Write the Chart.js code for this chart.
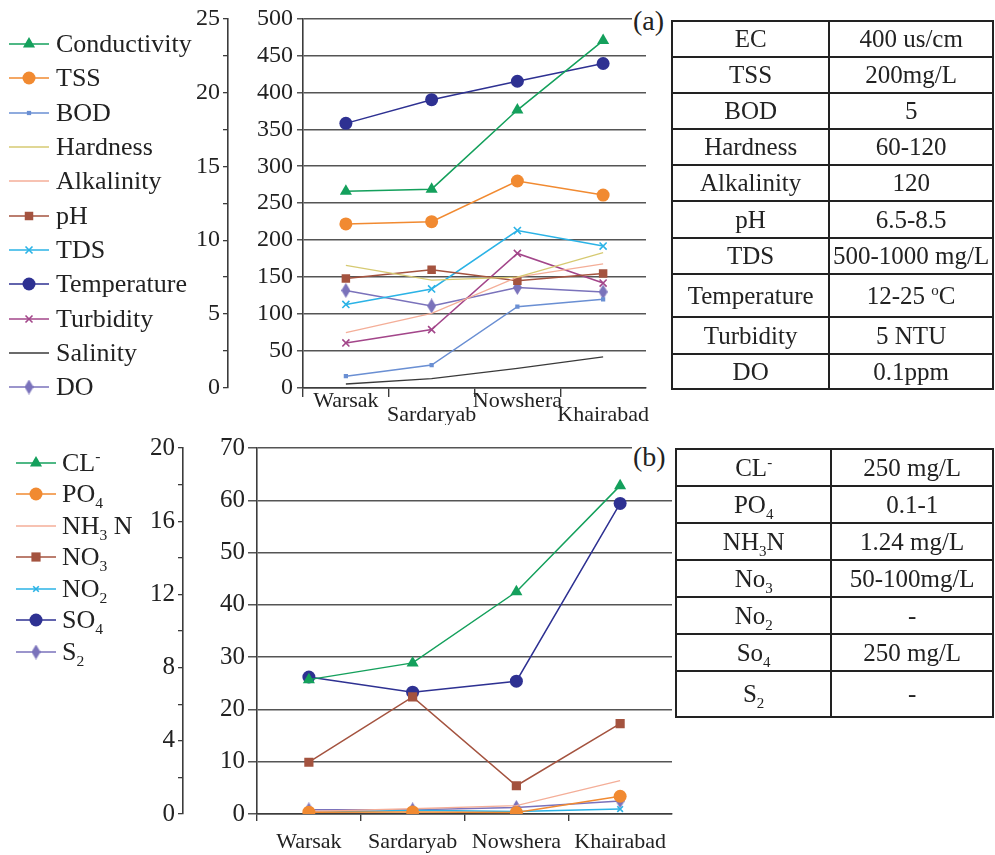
<!DOCTYPE html>
<html>
<head>
<meta charset="utf-8">
<script src="https://cdn.jsdelivr.net/npm/chart.js@4/dist/chart.umd.min.js"></script>
<style>
  body { margin: 0; background: #fff; font-family: 'Liberation Serif', 'Times New Roman', serif; color: #222; }
  #page { position: relative; width: 995px; height: 855px; overflow: hidden; }
  .abs { position: absolute; }
  .legend { position: absolute; }
  .legend .item { display: flex; align-items: center; white-space: nowrap; font-size: 26px; line-height: 1; }
  .legend canvas { flex: none; }
  .legend sub, .legend sup, td sub, td sup { font-size: 60%; line-height: 0; }
  .tag { position: absolute; font-size: 28px; background: #fff; padding: 0 12px 0 1px; }
  table { position: absolute; border-collapse: collapse; font-size: 25px; }
  td { border: 2px solid #222; text-align: center; padding: 0; }
</style>
</head>
<body>
<div id="page">
  <canvas id="chartA" class="abs" width="665" height="425" style="left:0;top:0"></canvas>
  <canvas id="chartB" class="abs" width="680" height="425" style="left:0;top:430px"></canvas>
  <div id="legendA" class="legend" style="left:9px;top:27px"></div>
  <div id="legendB" class="legend" style="left:16px;top:447px"></div>
  <div class="tag" style="left:632px;top:5px">(a)</div>
  <div class="tag" style="left:632px;top:441px">(b)</div>
  <table id="tableA" style="left:671px;top:20px;width:323px"></table>
  <table id="tableB" style="left:675px;top:448px;width:319px"></table>
</div>
<script>
const sites = ['Warsak', 'Sardaryab', 'Nowshera', 'Khairabad'];

// (a) right axis 0-500
const conductivity = [266, 269, 376, 470];
const tss = [222, 225, 280, 261];
const hardness = [166, 146, 150, 183];
const alkalinity = [75, 101, 150, 168];
const tds = [113, 134, 213, 192];
// (a) left axis 0-25
const bod = [0.8, 1.55, 5.5, 6.0];
const ph = [7.4, 8.0, 7.25, 7.75];
const temperature = [17.9, 19.5, 20.75, 21.95];
const turbidity = [3.05, 3.95, 9.1, 7.1];
const salinity = [0.27, 0.63, 1.33, 2.1];
const dissolvedO = [6.6, 5.55, 6.8, 6.5];

// (b) mg/L, 0-70 axis
const chloride = [25.7, 28.9, 42.5, 62.8];
const phosphate = [0.35, 0.4, 0.3, 3.4];
const ammoniaN = [0.5, 1.0, 1.6, 6.4];
const nitrate = [9.9, 22.4, 5.4, 17.3];
const nitrite = [0.3, 0.7, 0.5, 0.95];
const sulphate = [26.2, 23.3, 25.4, 59.4];
const sulphide = [0.8, 0.8, 1.25, 2.5];

// standards tables
const paramsA = ['EC', 'TSS', 'BOD', 'Hardness', 'Alkalinity', 'pH', 'TDS', 'Temperature', 'Turbidity', 'DO'];
const limitsA = ['400 us/cm', '200mg/L', '5', '60-120', '120', '6.5-8.5', '500-1000 mg/L', '12-25 <sup>o</sup>C', '5 NTU', '0.1ppm'];
const paramsB = ['CL<sup>-</sup>', 'PO<sub>4</sub>', 'NH<sub>3</sub>N', 'No<sub>3</sub>', 'No<sub>2</sub>', 'So<sub>4</sub>', 'S<sub>2</sub>'];
const limitsB = ['250 mg/L', '0.1-1', '1.24 mg/L', '50-100mg/L', '-', '250 mg/L', '-'];

const FONT = "'Liberation Serif', 'Times New Roman', serif";
const AXIS = '#3c3c3c';
const GRID = '#555555';

const GREEN = '#14a05c', ORANGE = '#f18a31', LBLUE = '#6a8fd3', OLIVE = '#d6ca72',
      SALMON = '#f4ae98', BROWN = '#a4533f', CYAN = '#2bb3e6', NAVY = '#2e3192',
      MAGENTA = '#a3468a', DGRAY = '#3a3a3a', PURPLE = '#7a72bb';

function makeDiamond(color, w, h) {
  const c = document.createElement('canvas');
  c.width = w; c.height = h;
  const g = c.getContext('2d');
  g.fillStyle = color;
  g.beginPath();
  g.moveTo(w / 2, 0); g.lineTo(w, h / 2); g.lineTo(w / 2, h); g.lineTo(0, h / 2);
  g.closePath(); g.fill();
  return c;
}

function series(label, html, data, color, style, r, axis, lw) {
  return {
    label: label, html: html, data: data, yAxisID: axis || 'y',
    borderColor: color, backgroundColor: color,
    pointBackgroundColor: color, pointBorderColor: color,
    pointStyle: style || false, pointRadius: style ? r : 0, pointHoverRadius: style ? r : 0,
    pointBorderWidth: (style === 'crossRot') ? 1.6 : 0,
    borderWidth: lw || 1.5, tension: 0
  };
}

const dsA = [
  series('Conductivity', 'Conductivity', conductivity, GREEN, 'triangle', 7),
  series('TSS', 'TSS', tss, ORANGE, 'circle', 6.5),
  series('BOD', 'BOD', bod, LBLUE, 'rect', 3, 'y2'),
  series('Hardness', 'Hardness', hardness, OLIVE, null, 0, 'y', 1.3),
  series('Alkalinity', 'Alkalinity', alkalinity, SALMON, null, 0, 'y', 1.3),
  series('pH', 'pH', ph, BROWN, 'rect', 6, 'y2'),
  series('TDS', 'TDS', tds, CYAN, 'crossRot', 5),
  series('Temperature', 'Temperature', temperature, NAVY, 'circle', 6.5, 'y2'),
  series('Turbidity', 'Turbidity', turbidity, MAGENTA, 'crossRot', 5, 'y2'),
  series('Salinity', 'Salinity', salinity, DGRAY, null, 0, 'y2', 1.3),
  series('DO', 'DO', dissolvedO, PURPLE, makeDiamond(PURPLE, 9, 15), 6, 'y2')
];

const dsB = [
  series('CL-', 'CL<sup>-</sup>', chloride, GREEN, 'triangle', 7),
  series('PO4', 'PO<sub>4</sub>', phosphate, ORANGE, 'circle', 6.5),
  series('NH3 N', 'NH<sub>3</sub> N', ammoniaN, SALMON, null, 0, 'y', 1.3),
  series('NO3', 'NO<sub>3</sub>', nitrate, BROWN, 'rect', 6.5),
  series('NO2', 'NO<sub>2</sub>', nitrite, CYAN, 'crossRot', 4),
  series('SO4', 'SO<sub>4</sub>', sulphate, NAVY, 'circle', 6.5),
  series('S2', 'S<sub>2</sub>', sulphide, PURPLE, makeDiamond(PURPLE, 9, 15), 6)
];

function drawMarker(g, ds, x, y) {
  const s = ds.pointStyle, r = ds.pointRadius;
  g.fillStyle = ds.borderColor; g.strokeStyle = ds.borderColor;
  if (!s) return;
  if (s instanceof HTMLCanvasElement) { g.drawImage(s, x - s.width / 2, y - s.height / 2); return; }
  g.beginPath();
  if (s === 'circle') { g.arc(x, y, r, 0, Math.PI * 2); g.fill(); }
  else if (s === 'rect') { const a = r * Math.SQRT1_2; g.fillRect(x - a, y - a, 2 * a, 2 * a); }
  else if (s === 'triangle') {
    g.moveTo(x, y - r); g.lineTo(x + r * 0.866, y + r / 2); g.lineTo(x - r * 0.866, y + r / 2);
    g.closePath(); g.fill();
  } else if (s === 'crossRot') {
    const a = r * 0.7; g.lineWidth = 1.6;
    g.moveTo(x - a, y - a); g.lineTo(x + a, y + a); g.moveTo(x + a, y - a); g.lineTo(x - a, y + a); g.stroke();
  }
}

function buildLegend(el, datasets, rowH, gap) {
  datasets.forEach(ds => {
    const row = document.createElement('div');
    row.className = 'item';
    row.style.height = rowH + 'px';
    const c = document.createElement('canvas');
    c.width = 40; c.height = 20;
    c.style.marginRight = gap + 'px';
    const g = c.getContext('2d');
    g.strokeStyle = ds.borderColor; g.lineWidth = ds.borderWidth;
    g.beginPath(); g.moveTo(0, 10); g.lineTo(40, 10); g.stroke();
    drawMarker(g, ds, 20, 10);
    const t = document.createElement('span');
    t.innerHTML = ds.html;
    row.appendChild(c); row.appendChild(t);
    el.appendChild(row);
  });
}

function buildTable(el, params, limits, heights) {
  params.forEach((p, i) => {
    const tr = document.createElement('tr');
    tr.style.height = heights[i] + 'px';
    tr.innerHTML = '<td style="width:49%">' + p + '</td><td>' + limits[i] + '</td>';
    el.appendChild(tr);
  });
}

function makeChart(id, datasets, cfg) {
  const tickFont = { family: FONT, size: cfg.tickSize };
  return new Chart(document.getElementById(id), {
    type: 'line',
    data: { labels: sites, datasets: datasets },
    options: {
      responsive: false, animation: false, events: [],
      layout: { padding: cfg.padding },
      plugins: { legend: { display: false }, tooltip: { enabled: false } },
      scales: {
        x: {
          type: 'category', offset: true,
          grid: {
            offset: true, drawOnChartArea: false, drawTicks: true, tickLength: cfg.xTick,
            // no tick mark at the far right end of the axis
            color: c => (c.tick && c.index < sites.length) ? AXIS : 'rgba(0,0,0,0)', lineWidth: 1.4
          },
          border: { display: true, color: AXIS, width: 1.6 },
          ticks: {
            color: '#222', maxRotation: 0, autoSkip: false, padding: cfg.xPad,
            font: c => ({ family: FONT, size: 22, lineHeight: (cfg.stagger && c.index % 2) ? 0.76 : 1.0 }),
            callback: function (v, i) {
              const s = this.getLabelForValue(v);
              return (cfg.stagger && i % 2) ? ['', s] : s;
            }
          },
          afterFit: s => { s.height = cfg.xHeight; }
        },
        y: {
          position: 'left', weight: 0, min: 0, max: cfg.yMax,
          ticks: { stepSize: cfg.yStep, color: '#222', font: tickFont, padding: cfg.yPad },
          grid: { color: GRID, lineWidth: 1.5, tickLength: cfg.yTick },
          border: { display: true, color: AXIS, width: 1.6 },
          afterFit: s => { s.width = cfg.yWidth; }
        },
        y2: {
          position: 'left', weight: 1, min: 0, max: cfg.y2Max,
          ticks: {
            stepSize: cfg.y2Step, color: '#222', font: tickFont, padding: 3,
            callback: v => (Math.abs(v / cfg.y2Label - Math.round(v / cfg.y2Label)) < 1e-6) ? v : ''
          },
          grid: { drawOnChartArea: false, color: AXIS, lineWidth: 1.3, tickLength: 5 },
          border: { display: true, color: AXIS, width: 1.6 },
          afterFit: s => { s.width = 45; }
        }
      }
    }
  });
}

makeChart('chartA', dsA, {
  padding: { left: 183, top: 18, right: 19, bottom: 0 },
  tickSize: 24, xTick: 9, xPad: -7, xHeight: 37, stagger: true,
  yMax: 500, yStep: 50, yPad: 4, yTick: 6, yWidth: 75,
  y2Max: 25, y2Step: 2.5, y2Label: 5
});

makeChart('chartB', dsB, {
  padding: { left: 138, top: 18, right: 8, bottom: 0 },
  tickSize: 25, xTick: 7, xPad: 10, xHeight: 41, stagger: false,
  yMax: 70, yStep: 10, yPad: 3, yTick: 9, yWidth: 74,
  y2Max: 20, y2Step: 2, y2Label: 4
});

buildLegend(document.getElementById('legendA'), dsA, 34.3, 7);
buildLegend(document.getElementById('legendB'), dsB, 31.5, 6);
buildTable(document.getElementById('tableA'), paramsA, limitsA, [36, 36, 36, 36, 36, 37, 36, 43, 37, 35]);
buildTable(document.getElementById('tableB'), paramsB, limitsB, [37, 37, 37, 37, 37, 37, 46]);
</script>
</body>
</html>
